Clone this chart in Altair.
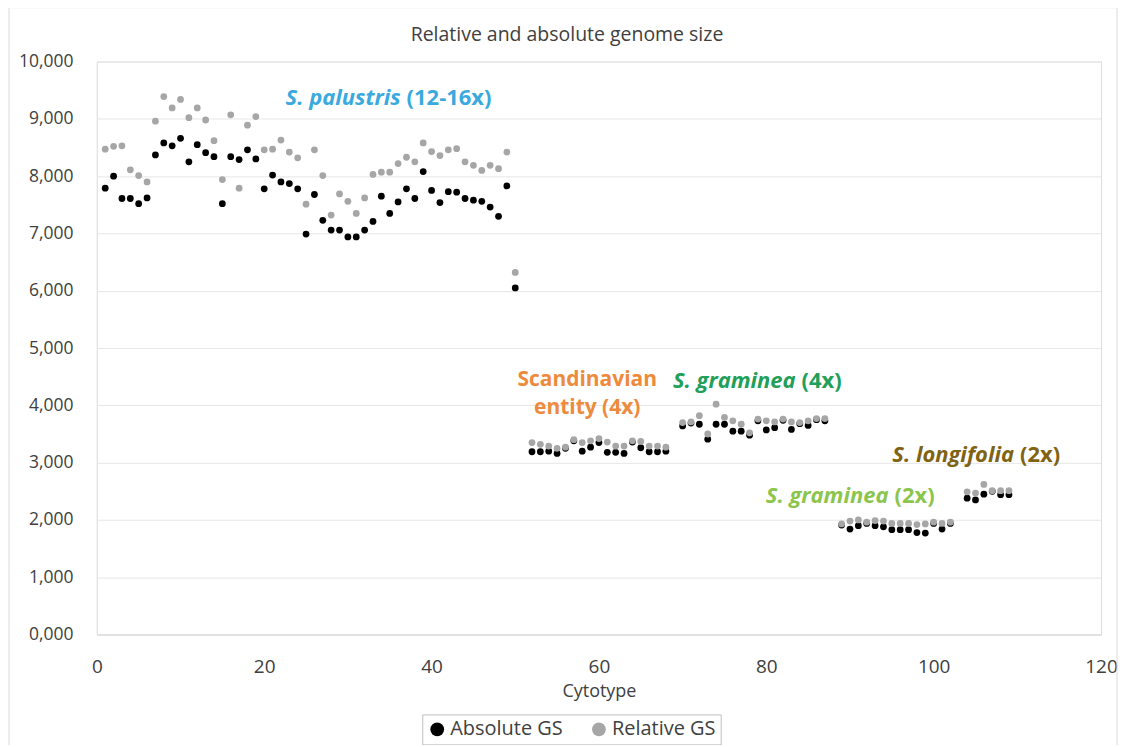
import altair as alt
import pandas as pd

# ---------------- data ----------------
cytotype = (list(range(1, 51)) + list(range(52, 69)) + list(range(70, 88))
            + list(range(89, 103)) + list(range(104, 110)))

absolute_gs = [
    # S. palustris 1-50
    7.79, 8.00, 7.61, 7.61, 7.52, 7.62, 8.37, 8.58, 8.53, 8.66,
    8.25, 8.55, 8.41, 8.34, 7.52, 8.34, 8.29, 8.46, 8.30, 7.78,
    8.02, 7.90, 7.87, 7.78, 6.99, 7.68, 7.23, 7.06, 7.06, 6.94,
    6.94, 7.06, 7.21, 7.65, 7.35, 7.55, 7.78, 7.61, 8.08, 7.75,
    7.54, 7.73, 7.72, 7.61, 7.58, 7.56, 7.46, 7.30, 7.83, 6.05,
    # Scandinavian entity 52-68
    3.19, 3.19, 3.20, 3.16, 3.25, 3.38, 3.20, 3.27, 3.35, 3.18,
    3.18, 3.16, 3.36, 3.26, 3.19, 3.19, 3.20,
    # S. graminea 4x 70-87
    3.64, 3.69, 3.67, 3.41, 3.67, 3.67, 3.55, 3.55, 3.48, 3.73,
    3.57, 3.61, 3.74, 3.58, 3.68, 3.65, 3.75, 3.73,
    # S. graminea 2x 89-102
    1.91, 1.84, 1.90, 1.94, 1.90, 1.88, 1.83, 1.83, 1.83, 1.78,
    1.77, 1.94, 1.84, 1.94,
    # S. longifolia 104-109
    2.38, 2.35, 2.45, 2.50, 2.44, 2.44,
]

relative_gs = [
    # S. palustris 1-50
    8.47, 8.52, 8.53, 8.11, 8.01, 7.90, 8.96, 9.39, 9.19, 9.34,
    9.02, 9.19, 8.98, 8.62, 7.94, 9.07, 7.79, 8.89, 9.04, 8.46,
    8.47, 8.63, 8.42, 8.32, 7.51, 8.46, 8.01, 7.32, 7.69, 7.56,
    7.35, 7.62, 8.03, 8.07, 8.07, 8.22, 8.33, 8.25, 8.58, 8.43,
    8.36, 8.46, 8.48, 8.25, 8.19, 8.10, 8.19, 8.13, 8.42, 6.32,
    # Scandinavian entity 52-68
    3.35, 3.32, 3.29, 3.25, 3.27, 3.40, 3.35, 3.38, 3.42, 3.36,
    3.29, 3.29, 3.38, 3.37, 3.29, 3.29, 3.27,
    # S. graminea 4x 70-87
    3.70, 3.71, 3.82, 3.50, 4.02, 3.79, 3.73, 3.67, 3.52, 3.76,
    3.73, 3.71, 3.76, 3.71, 3.70, 3.73, 3.77, 3.77,
    # S. graminea 2x 89-102
    1.93, 1.98, 2.00, 1.96, 1.99, 1.98, 1.94, 1.94, 1.94, 1.92,
    1.93, 1.96, 1.94, 1.96,
    # S. longifolia 104-109
    2.49, 2.47, 2.62, 2.51, 2.51, 2.51,
]

series_names = ["Absolute GS", "Relative GS"]
series_colors = ["#000000", "#a6a6a6"]

x_ticks = [0, 20, 40, 60, 80, 100, 120]
y_ticks = [0, 1, 2, 3, 4, 5, 6, 7, 8, 9, 10]

# group labels: italic part (right-aligned at x) + plain part (left-aligned at x)
label_x = [36.3, 83.5, 94.6, 109.6]
label_y = [9.37, 4.43, 2.42, 3.14]
label_italic = ["S. palustris", "S. graminea", "S. graminea", "S. longifolia"]
label_plain = ["(12-16x)", "(4x)", "(2x)", "(2x)"]
label_color = ["#3aa9dd", "#22a05a", "#8cc54e", "#806312"]

scand_x = [58.6, 58.6]
scand_y = [4.45, 3.96]
scand_text = ["Scandinavian", "entity (4x)"]
scand_color = "#ee8a3c"

FONT = "Open Sans"
TXT = "#404040"

n = len(cytotype)
df = pd.DataFrame({
    "Cytotype": cytotype * 2,
    "GS": absolute_gs + relative_gs,
    "Series": [series_names[0]] * n + [series_names[1]] * n,
})
labels_df = pd.DataFrame({"x": label_x, "y": label_y, "it": label_italic,
                          "pl": label_plain, "c": label_color})
scand_df = pd.DataFrame({"x": scand_x, "y": scand_y, "t": scand_text})

x_enc = alt.X("Cytotype:Q",
              scale=alt.Scale(domain=[0, 120], nice=False, zero=False),
              axis=alt.Axis(values=x_ticks, format="d", title="Cytotype",
                            grid=False, ticks=False, domain=True,
                            domainColor="#d9d9d9", labelFont=FONT,
                            labelFontSize=19, labelColor=TXT, labelPadding=23,
                            titleFont=FONT, titleFontSize=18,
                            titleFontWeight="normal", titleColor=TXT,
                            titlePadding=6, labelFlush=False))
y_enc = alt.Y("GS:Q",
              scale=alt.Scale(domain=[0, 10], nice=False),
              axis=alt.Axis(values=y_ticks,
                            labelExpr="replace(format(datum.value, '.3f'), '.', ',')",
                            title=None, grid=True, gridColor="#e6e6e6",
                            ticks=False, domain=True, domainColor="#e3e3e3",
                            labelFont=FONT, labelFontSize=17.5, labelColor=TXT,
                            labelPadding=24))
color_enc = alt.Color("Series:N",
                      scale=alt.Scale(domain=series_names, range=series_colors),
                      legend=alt.Legend(title=None, orient="none",
                                        legendX=326, legendY=654,
                                        direction="horizontal",
                                        symbolType="circle", symbolSize=190,
                                        symbolStrokeWidth=0, symbolOpacity=1,
                                        labelFont=FONT, labelFontSize=20,
                                        labelColor=TXT, labelOffset=3,
                                        columnPadding=26, padding=5,
                                        strokeColor="#bfbfbf"))

base = alt.Chart(df)
abs_layer = base.transform_filter(alt.datum.Series == series_names[0]).mark_circle(
    size=46, opacity=1).encode(x=x_enc, y=y_enc, color=color_enc)
rel_layer = base.transform_filter(alt.datum.Series == series_names[1]).mark_circle(
    size=46, opacity=1).encode(x=x_enc, y=y_enc, color=color_enc)

lab = alt.Chart(labels_df)
it_layer = lab.mark_text(font=FONT, fontSize=22, fontWeight="bold",
                         fontStyle="italic", align="right",
                         baseline="middle").encode(
    x="x:Q", y="y:Q", text="it:N", color=alt.Color("c:N", scale=None))
pl_layer = lab.mark_text(font=FONT, fontSize=22, fontWeight="bold",
                         align="left", baseline="middle", dx=6).encode(
    x="x:Q", y="y:Q", text="pl:N", color=alt.Color("c:N", scale=None))
sc_layer = alt.Chart(scand_df).mark_text(font=FONT, fontSize=21,
                                         fontWeight="bold", align="center",
                                         baseline="middle",
                                         color=scand_color).encode(
    x="x:Q", y="y:Q", text="t:N")

# light frame around the whole chart area (decoration)
frame = alt.Chart(pd.DataFrame({"a": [0]})).mark_rect(
    fill=None, stroke="#d9d9d9", strokeWidth=1).encode(
    x=alt.value(-88), x2=alt.value(1022), y=alt.value(-54), y2=alt.value(700))

chart = alt.layer(frame, abs_layer, rel_layer, it_layer, pl_layer, sc_layer).properties(
    width=1006, height=574,
    title=alt.TitleParams("Relative and absolute genome size", font=FONT,
                          fontSize=19.5, fontWeight="normal", color=TXT,
                          anchor="middle", frame="group", offset=-38, dx=-32),
    autosize=alt.AutoSizeParams(type="none"),
    padding={"left": 89, "top": 53, "right": 18, "bottom": 110},
).configure_view(stroke=None).configure(background="white")

chart.save("out.html", embed_options={"renderer": "svg", "actions": False})
